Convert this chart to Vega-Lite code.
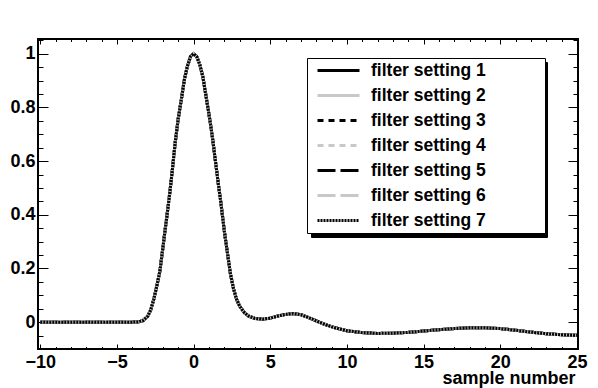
{
  "$schema": "https://vega.github.io/schema/vega-lite/v6.json",
  "width": 540,
  "height": 310,
  "autosize": "none",
  "padding": {"left": 38, "top": 39, "right": 20, "bottom": 39},
  "background": "white",
  "config": {
    "view": {"stroke": "black", "strokeWidth": 2},
    "font": "Liberation Sans",
    "axis": {
      "domain": false,
      "grid": false,
      "labelFont": "Liberation Sans",
      "labelFontWeight": "bold",
      "labelFontSize": 18,
      "labelColor": "black",
      "tickColor": "black",
      "tickWidth": 1,
      "labelFlush": false,
      "labelOverlap": false,
      "labelBound": false
    }
  },
  "data": {
    "values": [
      {"x": -10, "s1": 0, "s2": 0, "s3": 0, "s4": 0, "s5": 0, "s6": 0, "s7": 0},
      {"x": -5, "s1": 0, "s2": 0, "s3": 0, "s4": 0, "s5": 0, "s6": 0, "s7": 0},
      {"x": -4, "s1": 0, "s2": 0, "s3": 0, "s4": 0, "s5": 0, "s6": 0, "s7": 0},
      {"x": -3.6, "s1": 0.001, "s2": 0.001, "s3": 0.001, "s4": 0.001, "s5": 0.001, "s6": 0.001, "s7": 0.001},
      {"x": -3.3, "s1": 0.006, "s2": 0.006, "s3": 0.006, "s4": 0.006, "s5": 0.006, "s6": 0.006, "s7": 0.006},
      {"x": -3.0, "s1": 0.022, "s2": 0.022, "s3": 0.022, "s4": 0.022, "s5": 0.022, "s6": 0.022, "s7": 0.022},
      {"x": -2.8, "s1": 0.045, "s2": 0.045, "s3": 0.045, "s4": 0.045, "s5": 0.045, "s6": 0.045, "s7": 0.045},
      {"x": -2.6, "s1": 0.085, "s2": 0.085, "s3": 0.085, "s4": 0.085, "s5": 0.085, "s6": 0.085, "s7": 0.085},
      {"x": -2.4, "s1": 0.135, "s2": 0.135, "s3": 0.135, "s4": 0.135, "s5": 0.135, "s6": 0.135, "s7": 0.135},
      {"x": -2.2, "s1": 0.19, "s2": 0.19, "s3": 0.19, "s4": 0.19, "s5": 0.19, "s6": 0.19, "s7": 0.19},
      {"x": -2.0, "s1": 0.28, "s2": 0.28, "s3": 0.28, "s4": 0.28, "s5": 0.28, "s6": 0.28, "s7": 0.28},
      {"x": -1.8, "s1": 0.37, "s2": 0.37, "s3": 0.37, "s4": 0.37, "s5": 0.37, "s6": 0.37, "s7": 0.37},
      {"x": -1.6, "s1": 0.46, "s2": 0.46, "s3": 0.46, "s4": 0.46, "s5": 0.46, "s6": 0.46, "s7": 0.46},
      {"x": -1.4, "s1": 0.56, "s2": 0.56, "s3": 0.56, "s4": 0.56, "s5": 0.56, "s6": 0.56, "s7": 0.56},
      {"x": -1.2, "s1": 0.67, "s2": 0.67, "s3": 0.67, "s4": 0.67, "s5": 0.67, "s6": 0.67, "s7": 0.67},
      {"x": -1.0, "s1": 0.76, "s2": 0.76, "s3": 0.76, "s4": 0.76, "s5": 0.76, "s6": 0.76, "s7": 0.76},
      {"x": -0.8, "s1": 0.83, "s2": 0.83, "s3": 0.83, "s4": 0.83, "s5": 0.83, "s6": 0.83, "s7": 0.83},
      {"x": -0.6, "s1": 0.905, "s2": 0.905, "s3": 0.905, "s4": 0.905, "s5": 0.905, "s6": 0.905, "s7": 0.905},
      {"x": -0.4, "s1": 0.955, "s2": 0.955, "s3": 0.955, "s4": 0.955, "s5": 0.955, "s6": 0.955, "s7": 0.955},
      {"x": -0.2, "s1": 0.99, "s2": 0.99, "s3": 0.99, "s4": 0.99, "s5": 0.99, "s6": 0.99, "s7": 0.99},
      {"x": 0, "s1": 1.0, "s2": 1.0, "s3": 1.0, "s4": 1.0, "s5": 1.0, "s6": 1.0, "s7": 1.0},
      {"x": 0.2, "s1": 0.99, "s2": 0.99, "s3": 0.99, "s4": 0.99, "s5": 0.99, "s6": 0.99, "s7": 0.99},
      {"x": 0.4, "s1": 0.96, "s2": 0.96, "s3": 0.96, "s4": 0.96, "s5": 0.96, "s6": 0.96, "s7": 0.96},
      {"x": 0.6, "s1": 0.915, "s2": 0.915, "s3": 0.915, "s4": 0.915, "s5": 0.915, "s6": 0.915, "s7": 0.915},
      {"x": 0.8, "s1": 0.845, "s2": 0.845, "s3": 0.845, "s4": 0.845, "s5": 0.845, "s6": 0.845, "s7": 0.845},
      {"x": 1.0, "s1": 0.775, "s2": 0.775, "s3": 0.775, "s4": 0.775, "s5": 0.775, "s6": 0.775, "s7": 0.775},
      {"x": 1.2, "s1": 0.70, "s2": 0.70, "s3": 0.70, "s4": 0.70, "s5": 0.70, "s6": 0.70, "s7": 0.70},
      {"x": 1.4, "s1": 0.61, "s2": 0.61, "s3": 0.61, "s4": 0.61, "s5": 0.61, "s6": 0.61, "s7": 0.61},
      {"x": 1.6, "s1": 0.52, "s2": 0.52, "s3": 0.52, "s4": 0.52, "s5": 0.52, "s6": 0.52, "s7": 0.52},
      {"x": 1.8, "s1": 0.435, "s2": 0.435, "s3": 0.435, "s4": 0.435, "s5": 0.435, "s6": 0.435, "s7": 0.435},
      {"x": 2.0, "s1": 0.34, "s2": 0.34, "s3": 0.34, "s4": 0.34, "s5": 0.34, "s6": 0.34, "s7": 0.34},
      {"x": 2.2, "s1": 0.26, "s2": 0.26, "s3": 0.26, "s4": 0.26, "s5": 0.26, "s6": 0.26, "s7": 0.26},
      {"x": 2.4, "s1": 0.18, "s2": 0.18, "s3": 0.18, "s4": 0.18, "s5": 0.18, "s6": 0.18, "s7": 0.18},
      {"x": 2.6, "s1": 0.125, "s2": 0.125, "s3": 0.125, "s4": 0.125, "s5": 0.125, "s6": 0.125, "s7": 0.125},
      {"x": 2.8, "s1": 0.085, "s2": 0.085, "s3": 0.085, "s4": 0.085, "s5": 0.085, "s6": 0.085, "s7": 0.085},
      {"x": 3.0, "s1": 0.06, "s2": 0.06, "s3": 0.06, "s4": 0.06, "s5": 0.06, "s6": 0.06, "s7": 0.06},
      {"x": 3.3, "s1": 0.036, "s2": 0.036, "s3": 0.036, "s4": 0.036, "s5": 0.036, "s6": 0.036, "s7": 0.036},
      {"x": 3.6, "s1": 0.022, "s2": 0.022, "s3": 0.022, "s4": 0.022, "s5": 0.022, "s6": 0.022, "s7": 0.022},
      {"x": 4.0, "s1": 0.014, "s2": 0.014, "s3": 0.014, "s4": 0.014, "s5": 0.014, "s6": 0.014, "s7": 0.014},
      {"x": 4.5, "s1": 0.011, "s2": 0.011, "s3": 0.011, "s4": 0.011, "s5": 0.011, "s6": 0.011, "s7": 0.011},
      {"x": 5.0, "s1": 0.015, "s2": 0.015, "s3": 0.015, "s4": 0.015, "s5": 0.015, "s6": 0.015, "s7": 0.015},
      {"x": 5.5, "s1": 0.023, "s2": 0.023, "s3": 0.023, "s4": 0.023, "s5": 0.023, "s6": 0.023, "s7": 0.023},
      {"x": 6.0, "s1": 0.029, "s2": 0.029, "s3": 0.029, "s4": 0.029, "s5": 0.029, "s6": 0.029, "s7": 0.029},
      {"x": 6.5, "s1": 0.032, "s2": 0.032, "s3": 0.032, "s4": 0.032, "s5": 0.032, "s6": 0.032, "s7": 0.032},
      {"x": 7.0, "s1": 0.028, "s2": 0.028, "s3": 0.028, "s4": 0.028, "s5": 0.028, "s6": 0.028, "s7": 0.028},
      {"x": 7.5, "s1": 0.017, "s2": 0.017, "s3": 0.017, "s4": 0.017, "s5": 0.017, "s6": 0.017, "s7": 0.017},
      {"x": 8.0, "s1": 0.005, "s2": 0.005, "s3": 0.005, "s4": 0.005, "s5": 0.005, "s6": 0.005, "s7": 0.005},
      {"x": 8.5, "s1": -0.007, "s2": -0.007, "s3": -0.007, "s4": -0.007, "s5": -0.007, "s6": -0.007, "s7": -0.007},
      {"x": 9.0, "s1": -0.017, "s2": -0.017, "s3": -0.017, "s4": -0.017, "s5": -0.017, "s6": -0.017, "s7": -0.017},
      {"x": 9.5, "s1": -0.025, "s2": -0.025, "s3": -0.025, "s4": -0.025, "s5": -0.025, "s6": -0.025, "s7": -0.025},
      {"x": 10, "s1": -0.032, "s2": -0.032, "s3": -0.032, "s4": -0.032, "s5": -0.032, "s6": -0.032, "s7": -0.032},
      {"x": 11, "s1": -0.039, "s2": -0.039, "s3": -0.039, "s4": -0.039, "s5": -0.039, "s6": -0.039, "s7": -0.039},
      {"x": 12, "s1": -0.042, "s2": -0.042, "s3": -0.042, "s4": -0.042, "s5": -0.042, "s6": -0.042, "s7": -0.042},
      {"x": 13, "s1": -0.041, "s2": -0.041, "s3": -0.041, "s4": -0.041, "s5": -0.041, "s6": -0.041, "s7": -0.041},
      {"x": 14, "s1": -0.038, "s2": -0.038, "s3": -0.038, "s4": -0.038, "s5": -0.038, "s6": -0.038, "s7": -0.038},
      {"x": 15, "s1": -0.033, "s2": -0.033, "s3": -0.033, "s4": -0.033, "s5": -0.033, "s6": -0.033, "s7": -0.033},
      {"x": 16, "s1": -0.028, "s2": -0.028, "s3": -0.028, "s4": -0.028, "s5": -0.028, "s6": -0.028, "s7": -0.028},
      {"x": 17, "s1": -0.024, "s2": -0.024, "s3": -0.024, "s4": -0.024, "s5": -0.024, "s6": -0.024, "s7": -0.024},
      {"x": 18, "s1": -0.021, "s2": -0.021, "s3": -0.021, "s4": -0.021, "s5": -0.021, "s6": -0.021, "s7": -0.021},
      {"x": 19, "s1": -0.021, "s2": -0.021, "s3": -0.021, "s4": -0.021, "s5": -0.021, "s6": -0.021, "s7": -0.021},
      {"x": 20, "s1": -0.024, "s2": -0.024, "s3": -0.024, "s4": -0.024, "s5": -0.024, "s6": -0.024, "s7": -0.024},
      {"x": 21, "s1": -0.03, "s2": -0.03, "s3": -0.03, "s4": -0.03, "s5": -0.03, "s6": -0.03, "s7": -0.03},
      {"x": 22, "s1": -0.037, "s2": -0.037, "s3": -0.037, "s4": -0.037, "s5": -0.037, "s6": -0.037, "s7": -0.037},
      {"x": 23, "s1": -0.043, "s2": -0.043, "s3": -0.043, "s4": -0.043, "s5": -0.043, "s6": -0.043, "s7": -0.043},
      {"x": 24, "s1": -0.047, "s2": -0.047, "s3": -0.047, "s4": -0.047, "s5": -0.047, "s6": -0.047, "s7": -0.047},
      {"x": 25, "s1": -0.049, "s2": -0.049, "s3": -0.049, "s4": -0.049, "s5": -0.049, "s6": -0.049, "s7": -0.049}
    ]
  },
  "transform": [
    {"fold": ["s1", "s2", "s3", "s4", "s5", "s6", "s7"], "as": ["setting", "y"]},
    {"calculate": "datum.setting", "as": "shadow"}
  ],
  "layer": [
    {
      "mark": {"type": "line", "strokeWidth": 3},
      "encoding": {
        "x": {
          "field": "x", "type": "quantitative",
          "scale": {"domain": [-10.15, 25.07], "nice": false, "zero": false},
          "axis": {
            "orient": "bottom", "ticks": false, "labelPadding": 4,
            "values": [-10, -5, 0, 5, 10, 15, 20, 25], "format": "d",
            "title": "sample number", "titleFont": "Liberation Sans", "titleFontSize": 18,
            "titleFontWeight": "bold", "titleColor": "black", "titleAlign": "right",
            "titleBaseline": "alphabetic", "titleX": 537, "titleY": 34, "titleAnchor": "end"
          }
        },
        "y": {
          "field": "y", "type": "quantitative",
          "scale": {"domain": [-0.1, 1.055], "nice": false, "zero": false},
          "axis": {
            "orient": "left", "ticks": false, "labelPadding": 3,
            "values": [0, 0.2, 0.4, 0.6, 0.8, 1], "format": "~g", "title": null
          }
        },
        "color": {
          "field": "setting", "type": "nominal",
          "scale": {"range": ["#000000", "#c8c8c8", "#000000", "#c8c8c8", "#000000", "#c8c8c8", "#000000"]},
          "legend": {
            "title": null, "orient": "none", "legendX": 269, "legendY": 19,
            "symbolType": "stroke", "symbolSize": 1764, "symbolStrokeWidth": 3,
            "clipHeight": 25, "rowPadding": 0, "padding": 0, "symbolOffset": 9, "labelOffset": 10,
            "labelFont": "Liberation Sans", "labelFontWeight": "bold", "labelFontSize": 17.5,
            "labelColor": "black", "labelLimit": 500,
            "labelExpr": "'filter setting ' + slice(datum.label, 1) + '\u00a0\u00a0\u00a0\u00a0\u00a0\u00a0\u00a0\u00a0\u00a0\u00a0\u00a0\u00a0\u200b'",
            "fillColor": "white", "strokeColor": "black", "zindex": 2
          }
        },
        "strokeDash": {
          "field": "setting", "type": "nominal",
          "scale": {"range": [[1, 0], [1, 0], [6, 5], [6, 5], [18, 5], [18, 5], [2, 1]]},
          "legend": {
            "title": null, "orient": "none", "legendX": 269, "legendY": 19,
            "symbolType": "stroke", "symbolSize": 1764, "symbolStrokeWidth": 3,
            "clipHeight": 25, "rowPadding": 0, "padding": 0, "symbolOffset": 9, "labelOffset": 10,
            "labelFont": "Liberation Sans", "labelFontWeight": "bold", "labelFontSize": 17.5,
            "labelColor": "black", "labelLimit": 500,
            "labelExpr": "'filter setting ' + slice(datum.label, 1) + '\u00a0\u00a0\u00a0\u00a0\u00a0\u00a0\u00a0\u00a0\u00a0\u00a0\u00a0\u00a0\u200b'",
            "fillColor": "white", "strokeColor": "black", "zindex": 2
          }
        },
        "opacity": {
          "field": "shadow", "type": "ordinal",
          "scale": {"range": [1, 1, 1, 1, 1, 1, 1]},
          "legend": {
            "title": null, "orient": "none", "legendX": 273, "legendY": 23,
            "symbolType": "stroke", "symbolSize": 55225, "symbolStrokeWidth": 1,
            "symbolOpacity": 0, "symbolStrokeColor": "black",
            "clipHeight": 25, "rowPadding": 0, "padding": 0, "symbolOffset": 0, "labelOffset": 0,
            "labelFontSize": 1, "labelLimit": 500,
            "labelExpr": "''",
            "fillColor": "black", "strokeColor": "black", "zindex": 1
          }
        }
      }
    },
    {
      "mark": {"type": "point", "opacity": 0},
      "encoding": {
        "x": {
          "field": "x", "type": "quantitative",
          "axis": {
            "orient": "bottom", "labels": false, "title": null,
            "values": [-10, -9, -8, -7, -6, -5, -4, -3, -2, -1, 0, 1, 2, 3, 4, 5, 6, 7, 8, 9, 10, 11, 12, 13, 14, 15, 16, 17, 18, 19, 20, 21, 22, 23, 24, 25],
            "tickSize": {"expr": "datum.value % 5 === 0 ? -5 : -2.5"}
          }
        },
        "y": {
          "field": "y", "type": "quantitative",
          "axis": {
            "orient": "left", "labels": false, "title": null,
            "values": [-0.1, -0.05, 0, 0.05, 0.1, 0.15, 0.2, 0.25, 0.3, 0.35, 0.4, 0.45, 0.5, 0.55, 0.6, 0.65, 0.7, 0.75, 0.8, 0.85, 0.9, 0.95, 1.0, 1.05],
            "tickSize": {"expr": "abs(round(datum.value * 100)) % 20 === 0 ? -10 : -5"}
          }
        }
      }
    },
    {
      "mark": {"type": "point", "opacity": 0},
      "encoding": {
        "x": {
          "field": "x", "type": "quantitative",
          "axis": {
            "orient": "top", "labels": false, "title": null,
            "values": [-10, -9, -8, -7, -6, -5, -4, -3, -2, -1, 0, 1, 2, 3, 4, 5, 6, 7, 8, 9, 10, 11, 12, 13, 14, 15, 16, 17, 18, 19, 20, 21, 22, 23, 24, 25],
            "tickSize": {"expr": "datum.value % 5 === 0 ? -5 : -2.5"}
          }
        },
        "y": {
          "field": "y", "type": "quantitative",
          "axis": {
            "orient": "right", "labels": false, "title": null,
            "values": [-0.1, -0.05, 0, 0.05, 0.1, 0.15, 0.2, 0.25, 0.3, 0.35, 0.4, 0.45, 0.5, 0.55, 0.6, 0.65, 0.7, 0.75, 0.8, 0.85, 0.9, 0.95, 1.0, 1.05],
            "tickSize": {"expr": "abs(round(datum.value * 100)) % 20 === 0 ? -10 : -5"}
          }
        }
      }
    }
  ],
  "resolve": {"axis": {"x": "independent", "y": "independent"}}
}
